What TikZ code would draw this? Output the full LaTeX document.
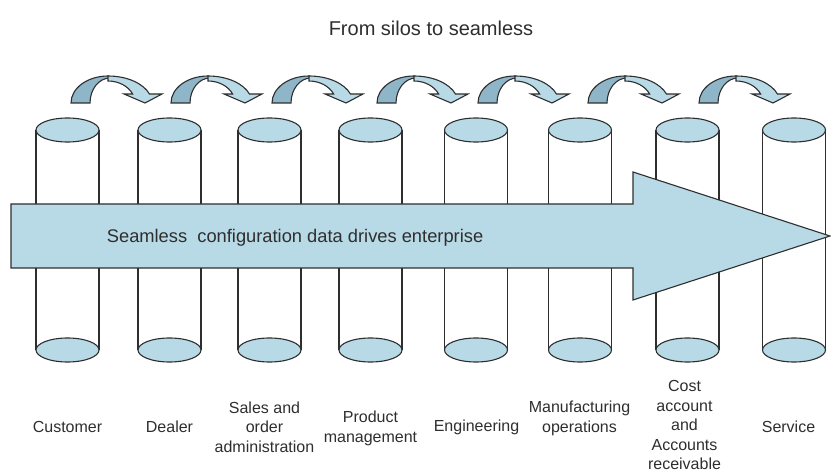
\documentclass[tikz,border=0pt]{standalone}
\usepackage{fontspec}
\setmainfont{Liberation Sans}
\usepackage{tikz}

\definecolor{siloblue}{HTML}{B8DAE6}
\definecolor{siloshade}{HTML}{8FB5C8}
\definecolor{siloline}{HTML}{2E2E2E}

\begin{document}
\begin{tikzpicture}
            [x=1pt,y=1pt,line width=1.1pt,color=siloline,
             every node/.style={text=siloline,align=center,font=\fontsize{16}{19.5}\selectfont},
             silo/.pic={
               \draw (-31.5,0) -- (-31.5,220) (31.5,0) -- (31.5,220);
               \draw[fill=siloblue] (0,0) ellipse [x radius=31.5,y radius=12];
               \draw[fill=siloblue] (0,220) ellipse [x radius=31.5,y radius=12];},
             hop/.pic={
               \draw[fill=siloshade] (0,0) arc[start angle=180,end angle=90,x radius=37,y radius=27]
                 -- (39,25) arc[start angle=90,end angle=180,x radius=20,y radius=25] -- cycle;
               \draw[fill=siloblue] (37,27) arc[start angle=90,end angle=19.5,x radius=44,y radius=27]
                 -- (91,9) -- (74,0) -- (53,9) -- (61.6,9)
                 arc[start angle=24.15,end angle=90,x radius=27,y radius=22] -- cycle;}]
            \useasboundingbox (0,0) rectangle (831,472);

            \node[font=\fontsize{20}{24}\selectfont] (title) at (431,444) {From silos to seamless};

            % silos
            \coordinate (C1) at (67.5,122);
            \coordinate (C2) at (169.5,122);
            \coordinate (C3) at (269.5,122);
            \coordinate (C4) at (370.5,122);
            \coordinate (C5) at (476,122);
            \coordinate (C6) at (580,122);
            \coordinate (C7) at (687.5,122);
            \coordinate (C8) at (794,122);
            \pic at (C1) {silo};
            \pic at (C2) {silo};
            \pic at (C3) {silo};
            \pic at (C4) {silo};
            \pic at (C5) {silo};
            \pic at (C6) {silo};
            \pic at (C7) {silo};
            \pic at (C8) {silo};

            % hops between silos
            \coordinate (F1) at (71,369);
            \coordinate (F2) at (171,369);
            \coordinate (F3) at (272,369);
            \coordinate (F4) at (377,369);
            \coordinate (F5) at (478,369);
            \coordinate (F6) at (588,369);
            \coordinate (F7) at (699,369);
            \pic at (F1) {hop};
            \pic at (F2) {hop};
            \pic at (F3) {hop};
            \pic at (F4) {hop};
            \pic at (F5) {hop};
            \pic at (F6) {hop};
            \pic at (F7) {hop};

            % big arrow
            \draw[fill=siloblue] (11,268) -- (633,268) -- (633,300) -- (830,236)
              -- (633,172) -- (633,204) -- (11,204) -- cycle;
            \node[anchor=west,font=\fontsize{18.3}{22}\selectfont] (drive) at (103,234)
              {Seamless\ \ configuration data drives enterprise};

            % labels
            \node (L1) at (67.5,45) {Customer};
            \node (L2) at (169.5,45) {Dealer};
            \node (L3) at (264.5,45) {Sales and\\order\\administration};
            \node (L4) at (370.5,43.5) {Product\\management};
            \node (L5) at (476.5,45) {Engineering};
            \node (L6) at (579.5,53.5) {Manufacturing\\operations};
            \node (L7) at (684.5,47) {Cost\\account\\and\\Accounts\\receivable};
            \node (L8) at (788.5,45) {Service};
        \end{tikzpicture}
\end{document}
